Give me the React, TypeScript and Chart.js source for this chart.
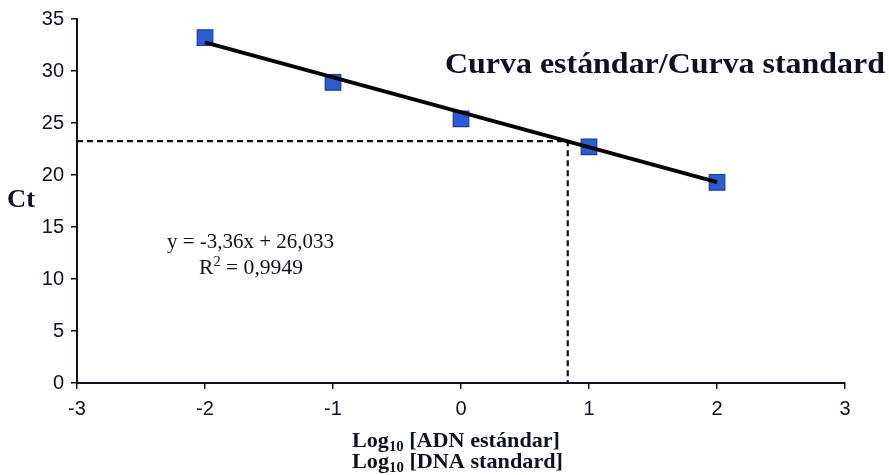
import React, { useEffect, useRef } from "react";
import { Chart, registerables } from "chart.js";

Chart.register(...registerables);

// ---- data ----
const logConc = [-2, -1, 0, 1, 2];
const ctValues = [33.2, 28.9, 25.4, 22.7, 19.3];
const trendX = [-2, 2];
const trendY = [32.75, 19.31];
const dashX = [-3, 0.834, 0.834];
const dashY = [23.26, 23.26, 0];
const xRange = [-3, 3];
const yRange = [0, 35];
const xStep = 1;
const yStep = 5;
const titleText = "Curva estándar/Curva standard";
const yTitle = "Ct";
const xTitleLines = [" [ADN estándar]", " [DNA standard]"];
const equationText = "y = -3,36x + 26,033";
const r2Text = " = 0,9949";

const SERIF = '"Liberation Serif", "Times New Roman", serif';
const SANS = '"Liberation Sans", Arial, sans-serif';
const INK = "#0e1120";

type Piece = { t: string; font: string; dy: number };

function drawPieces(
  ctx: CanvasRenderingContext2D,
  pieces: Piece[],
  x0: number,
  baseline: number,
  targetWidth: number
) {
  let w = 0;
  for (const p of pieces) {
    ctx.font = p.font;
    w += ctx.measureText(p.t).width;
  }
  const sx = targetWidth / w;
  ctx.save();
  ctx.translate(x0, baseline);
  ctx.scale(sx, 1);
  ctx.textBaseline = "alphabetic";
  ctx.textAlign = "left";
  ctx.fillStyle = INK;
  let x = 0;
  for (const p of pieces) {
    ctx.font = p.font;
    ctx.fillText(p.t, x, p.dy);
    x += ctx.measureText(p.t).width;
  }
  ctx.restore();
}

const textPlugin = {
  id: "annotTexts",
  afterDraw(chart: any) {
    const ctx: CanvasRenderingContext2D = chart.ctx;
    drawPieces(ctx, [{ t: titleText, font: `bold 29px ${SERIF}`, dy: 0 }], 445, 73, 440);
    drawPieces(ctx, [{ t: yTitle, font: `bold 26px ${SERIF}`, dy: 0 }], 7, 207, 28);
    const xb = [447, 468];
    xTitleLines.forEach((line, i) => {
      drawPieces(
        ctx,
        [
          { t: "Log", font: `bold 21px ${SERIF}`, dy: 0 },
          { t: "10", font: `bold 14px ${SERIF}`, dy: 4 },
          { t: line, font: `bold 21px ${SERIF}`, dy: 0 },
        ],
        352,
        xb[i],
        i === 0 ? 208 : 211
      );
    });
    drawPieces(ctx, [{ t: equationText, font: `21px ${SERIF}`, dy: 0 }], 167, 248, 167);
    drawPieces(
      ctx,
      [
        { t: "R", font: `21px ${SERIF}`, dy: 0 },
        { t: "2", font: `14px ${SERIF}`, dy: -8 },
        { t: r2Text, font: `21px ${SERIF}`, dy: 0 },
      ],
      199,
      274,
      104
    );
  },
};

export default function App() {
  const ref = useRef<HTMLCanvasElement | null>(null);

  useEffect(() => {
    document.body.style.margin = "0";
    const canvas = ref.current;
    if (!canvas) return;
    const chart = new Chart(canvas, {
      type: "scatter",
      data: {
        datasets: [
          {
            label: "trend",
            data: trendX.map((x, i) => ({ x, y: trendY[i] })),
            showLine: true,
            borderColor: "#050505",
            borderWidth: 3.8,
            pointRadius: 0,
            order: 0,
          } as any,
          {
            label: "points",
            data: logConc.map((x, i) => ({ x, y: ctValues[i] })),
            pointStyle: "rect",
            pointRadius: 11,
            backgroundColor: "#2b5cd2",
            borderColor: "#1a3b9c",
            borderWidth: 1.2,
            order: 1,
          } as any,
          {
            label: "dash",
            data: dashX.map((x, i) => ({ x, y: dashY[i] })),
            showLine: true,
            borderColor: INK,
            borderWidth: 2.2,
            borderDash: [6, 4],
            pointRadius: 0,
            order: 2,
          } as any,
        ],
      },
      options: {
        animation: false,
        responsive: false,
        maintainAspectRatio: false,
        layout: { padding: { top: 16, right: 44, left: 0, bottom: 0 } },
        plugins: {
          legend: { display: false },
          tooltip: { enabled: false },
          title: { display: false },
        },
        scales: {
          x: {
            type: "linear",
            min: xRange[0],
            max: xRange[1],
            afterFit: (s: any) => {
              s.height = 92;
            },
            ticks: {
              stepSize: xStep,
              color: INK,
              font: { family: SANS, size: 20 },
              padding: 8,
            },
            grid: {
              display: true,
              drawOnChartArea: false,
              drawTicks: true,
              tickLength: 6,
              color: INK,
              lineWidth: 1.5,
            },
            border: { display: true, color: INK, width: 2 },
          },
          y: {
            type: "linear",
            min: yRange[0],
            max: yRange[1],
            afterFit: (s: any) => {
              s.width = 77;
            },
            ticks: {
              stepSize: yStep,
              color: INK,
              font: { family: SANS, size: 20 },
              padding: 7,
            },
            grid: {
              display: true,
              drawOnChartArea: false,
              drawTicks: true,
              tickLength: 6,
              color: INK,
              lineWidth: 1.5,
            },
            border: { display: true, color: INK, width: 2 },
          },
        },
      },
      plugins: [textPlugin],
    });
    return () => chart.destroy();
  }, []);

  return (
    <div style={{ position: "fixed", left: 0, top: 0, width: 889, height: 475, background: "#fff" }}>
      <canvas ref={ref} width={889} height={475} style={{ width: 889, height: 475, display: "block" }} />
    </div>
  );
}
